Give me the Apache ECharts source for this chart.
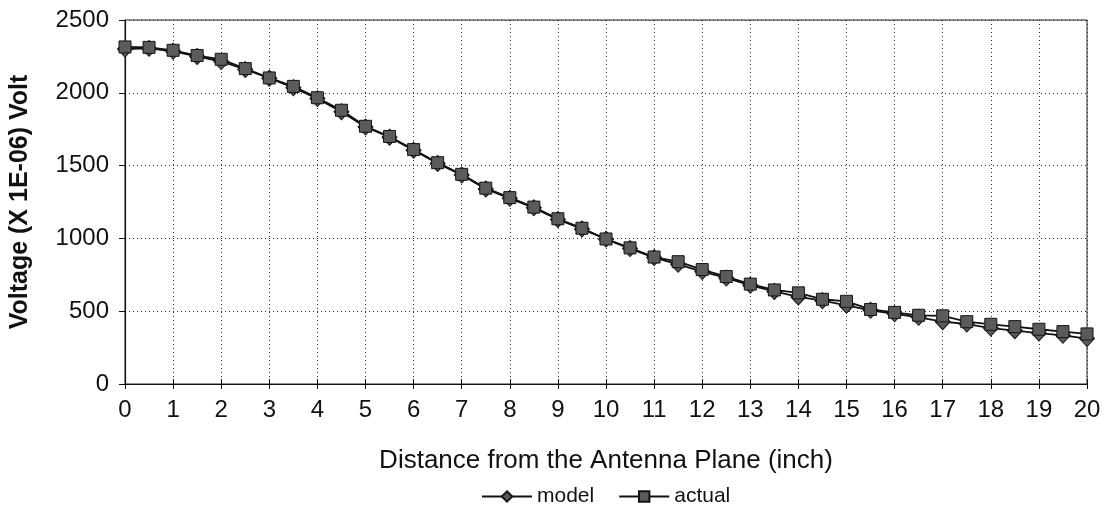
<!DOCTYPE html>
<html>
<head>
<meta charset="utf-8">
<title>Voltage vs distance from the antenna plane</title>
<script src="https://cdn.jsdelivr.net/npm/echarts@6/dist/echarts.min.js"></script>
<style>
  html, body { margin: 0; padding: 0; background: #fff; }
  #chart { width: 1104px; height: 520px; }
</style>
</head>
<body>
<div id="chart"></div>
<script>
// Distance from the antenna plane, inches (every half inch)
const distance = [
  0, 0.5, 1, 1.5, 2, 2.5, 3, 3.5, 4, 4.5,
  5, 5.5, 6, 6.5, 7, 7.5, 8, 8.5, 9, 9.5,
  10, 10.5, 11, 11.5, 12, 12.5, 13, 13.5, 14, 14.5,
  15, 15.5, 16, 16.5, 17, 17.5, 18, 18.5, 19, 19.5, 20
];

// Voltage, in units of 1E-06 V
const model = [
  2300, 2305, 2285, 2250, 2215, 2160, 2100, 2035, 1960, 1870,
  1765, 1695, 1605, 1515, 1435, 1340, 1275, 1210, 1130, 1065,
  995, 930, 868, 822, 772, 728, 678, 636, 598, 572,
  540, 506, 482, 458, 428, 412, 384, 366, 350, 334, 312
];
const actual = [
  2315, 2312, 2292, 2256, 2230, 2166, 2102, 2044, 1966, 1880,
  1770, 1700, 1610, 1520, 1440, 1345, 1280, 1215, 1135, 1070,
  996, 935, 872, 840, 786, 738, 686, 646, 626, 582,
  568, 512, 492, 472, 468, 428, 410, 394, 376, 360, 344
];

const seriesNames = ['model', 'actual'];
const yTicks = { min: 0, max: 2500, step: 500 };
const xTicks = { min: 0, max: 20, step: 1 };

const FONT = '"Liberation Sans", Arial, sans-serif';

const pair = (xs, ys) => xs.map((x, i) => [x, ys[i]]);

const markerStyle = {
  color: '#5b5b5b',
  borderColor: '#151515',
  borderWidth: 1
};

const chart = echarts.init(document.getElementById('chart'), null, { renderer: 'canvas' });

chart.setOption({
  animation: false,
  backgroundColor: '#ffffff',
  textStyle: { fontFamily: FONT, color: '#111' },
  grid: {
    left: 125, right: 17, top: 20, bottom: 136,
    show: true, borderColor: '#222', borderWidth: 1
  },
  legend: {
    top: 481,
    left: 476,
    itemWidth: 50,
    itemHeight: 13,
    itemGap: 24,
    data: seriesNames,
    textStyle: { fontFamily: FONT, fontSize: 21, color: '#111' }
  },
  xAxis: [
    {
      type: 'value',
      min: xTicks.min, max: xTicks.max, interval: xTicks.step,
      name: 'Distance from the Antenna Plane (inch)',
      nameLocation: 'middle',
      nameGap: 64,
      nameTextStyle: { fontFamily: FONT, fontSize: 26, color: '#111' },
      axisLine: { show: true, onZero: false, lineStyle: { color: '#111', width: 1.2 } },
      axisTick: { show: true, inside: false, length: 5, lineStyle: { color: '#111' } },
      axisLabel: { fontFamily: FONT, fontSize: 24, color: '#111', margin: 14 },
      splitLine: { show: true, lineStyle: { color: '#333', type: [1, 3], width: 1 } }
    },
    {
      // inner half of the cross ticks on the distance axis
      type: 'value',
      position: 'bottom',
      min: xTicks.min, max: xTicks.max, interval: xTicks.step,
      axisLine: { show: false },
      axisTick: { show: true, inside: true, length: 5, lineStyle: { color: '#111' } },
      axisLabel: { show: false },
      splitLine: { show: false }
    }
  ],
  yAxis: {
    type: 'value',
    min: yTicks.min, max: yTicks.max, interval: yTicks.step,
    name: 'Voltage (X 1E-06) Volt',
    nameLocation: 'middle',
    nameGap: 92,
    nameTextStyle: { fontFamily: FONT, fontSize: 25, fontWeight: 'bold', color: '#111' },
    axisLine: { show: true, lineStyle: { color: '#111', width: 1.2 } },
    axisTick: { show: true, inside: false, length: 6, lineStyle: { color: '#111' } },
    axisLabel: {
      fontFamily: FONT, fontSize: 24, color: '#111', margin: 16,
      formatter: (v) => String(v)
    },
    splitLine: { show: true, lineStyle: { color: '#333', type: [1, 3], width: 1 } }
  },
  series: [
    {
      name: seriesNames[0],
      type: 'line',
      data: pair(distance, model),
      symbol: 'diamond',
      symbolSize: [15, 16],
      lineStyle: { color: '#111', width: 1.8 },
      itemStyle: markerStyle,
      z: 3
    },
    {
      name: seriesNames[1],
      type: 'line',
      data: pair(distance, actual),
      symbol: 'rect',
      symbolSize: 12,
      lineStyle: { color: '#111', width: 1.8 },
      itemStyle: markerStyle,
      z: 4
    }
  ]
});
</script>
</body>
</html>
